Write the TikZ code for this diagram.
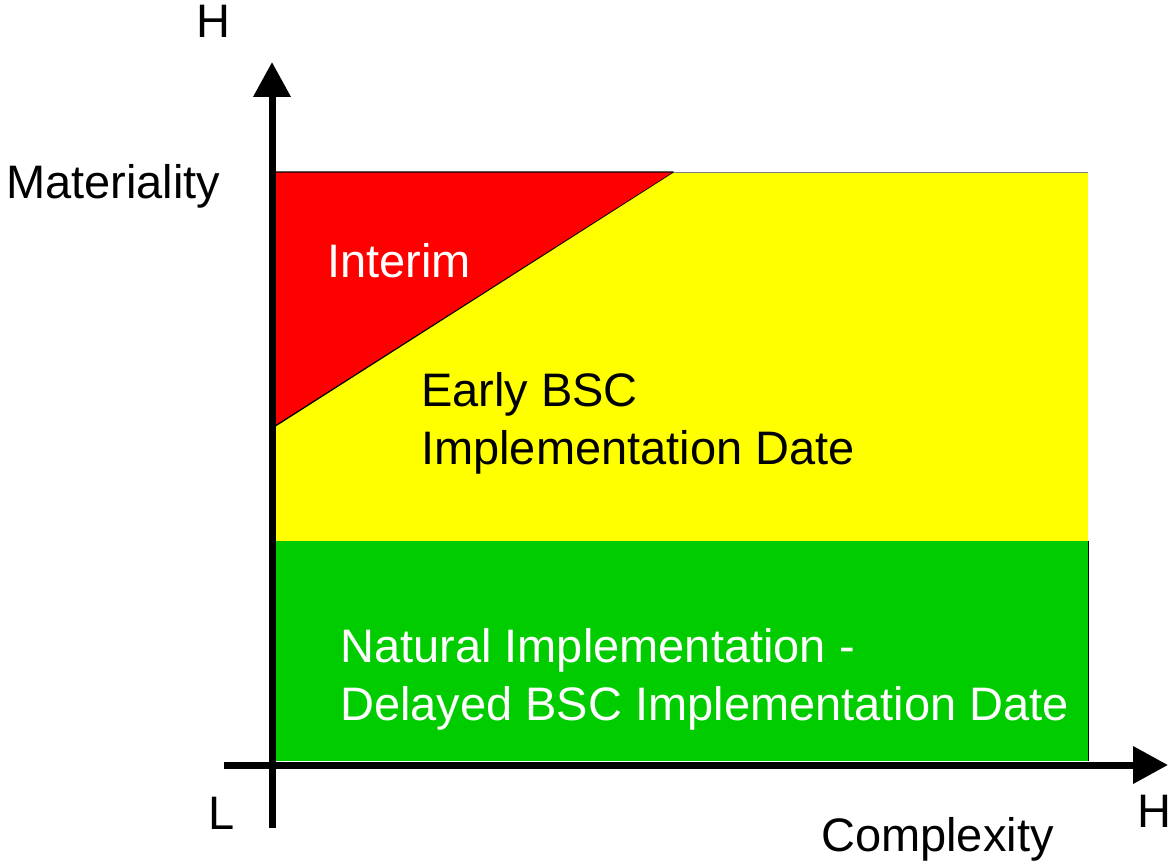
\documentclass[tikz,border=0pt]{standalone}
\usepackage{fontspec}
\setmainfont{Liberation Sans}
\usetikzlibrary{arrows.meta}
\definecolor{zred}{RGB}{255,0,0}
\definecolor{zyellow}{RGB}{255,255,0}
\definecolor{zgreen}{RGB}{0,204,0}
\tikzset{
  lbl/.style={inner sep=0pt, anchor=base west, font=\fontsize{47}{56}\selectfont},
  axis/.style={line width=7pt, -{Triangle[length=35pt,width=36pt]}},
}
\begin{document}
\begin{tikzpicture}[x=1pt,y=-1pt]
\useasboundingbox (0,0) rectangle (1169,864);
% regions
\fill[zyellow] (272,172) rectangle (1088,541);
\fill[zgreen] (272,541) rectangle (1088,761);
\draw[line width=1pt] (1088,541) -- (1088,761);
\draw[line width=0.8pt, gray] (272,172) -- (1088,172);
\filldraw[fill=zred, draw=black, line width=1.5pt, line join=round] (272,428) -- (272,172) -- (673,172) -- cycle;
\fill[zred] (275,172.6) -- (672,172.6) -- (275,425) -- cycle;
% axes
\coordinate (ybot) at (272,828);
\coordinate (ytop) at (272,62);
\coordinate (xl) at (224,765);
\coordinate (xr) at (1168,765);
\draw[axis] (ybot) -- (ytop);
\draw[axis] (xl) -- (xr);
% labels
\node[lbl] (hy) at (196,38) {H};
\node[lbl] (mat) at (6,198) {Materiality};
\node[lbl, text=white] (int) at (327,277) {Interim};
\node[lbl] (early1) at (421,406) {Early BSC};
\node[lbl] (early2) at (421,464) {Implementation Date};
\node[lbl, text=white] (nat1) at (340,662) {Natural Implementation -};
\node[lbl, text=white] (nat2) at (340,720) {Delayed BSC Implementation Date};
\node[lbl] (lo) at (208,829) {L};
\node[lbl] (hx) at (1137,827) {H};
\node[lbl] (cx) at (821,851) {Complexity};
\end{tikzpicture}
\end{document}
